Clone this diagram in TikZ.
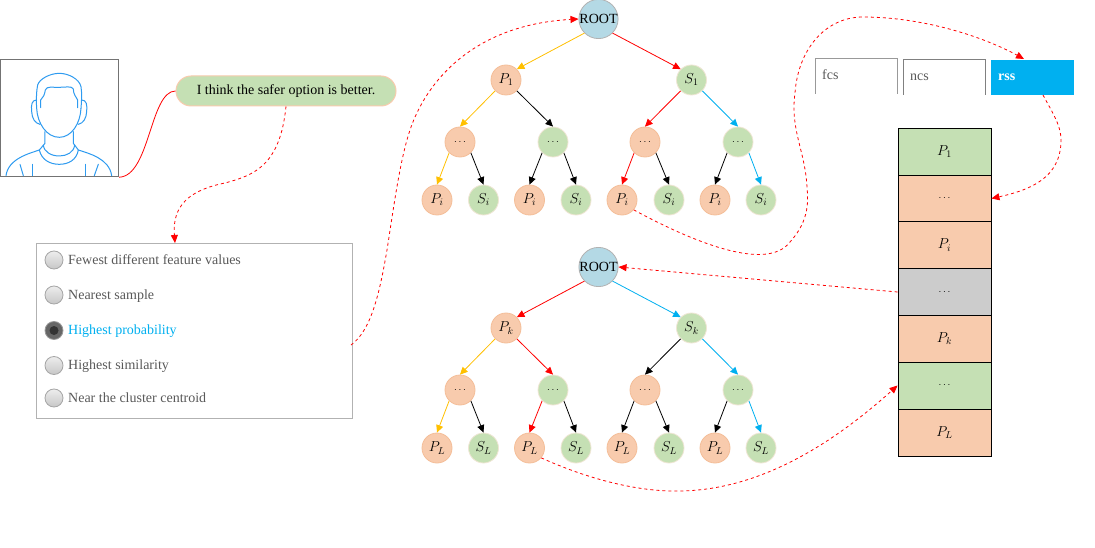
\documentclass[tikz,border=0pt]{standalone}
\usepackage{fontspec}
\setmainfont{Liberation Serif}
\usetikzlibrary{arrows.meta,shadings}
\definecolor{peach}{HTML}{F8CBAD}
\definecolor{peachline}{HTML}{F4BE98}
\definecolor{leaf}{HTML}{C5E0B4}
\definecolor{leafline}{HTML}{EFE6D4}
\definecolor{rootfill}{HTML}{B4D9E5}
\definecolor{amber}{HTML}{FFC000}
\definecolor{sky}{HTML}{00B0F0}
\definecolor{greytxt}{HTML}{595959}
\definecolor{figure}{HTML}{2E9BF0}
\newcommand{\labelfont}{\fontsize{14.4}{16}\selectfont}
\tikzset{
  x=1pt, y=-1pt,
  rootnode/.style={circle,draw=black!30,line width=0.8pt,fill=rootfill,minimum size=37pt,inner sep=0pt,font=\fontsize{14}{14}\selectfont},
  pnode/.style={circle,draw=peachline,line width=0.8pt,fill=peach,minimum size=30pt,inner sep=0pt,font=\labelfont},
  snode/.style={circle,draw=leafline,line width=0.8pt,fill=leaf,minimum size=30pt,inner sep=0pt,font=\labelfont},
  dotsnode/.style={font=\normalsize},
  edge/.style={line width=0.8pt,-{Triangle[length=7.5pt,width=7pt]}},
  link/.style={red,line width=0.8pt,dash pattern=on 3pt off 3pt},
  linkarrow/.style={link,-{Triangle[length=8pt,width=7pt]}},
  cell/.style={draw=black,line width=0.9pt,minimum width=93pt,minimum height=47pt,inner sep=0pt,font=\labelfont},
  tab/.style={minimum width=83pt,minimum height=35pt,inner sep=0pt},
  tablabel/.style={font=\fontsize{14}{14}\selectfont,anchor=base west,inner sep=0pt},
  choice/.style={circle,draw=black!35,line width=0.8pt,top color=black!7,bottom color=black!22,minimum size=18pt,inner sep=0pt},
  choicetext/.style={anchor=base west,text=greytxt,font=\fontsize{14}{16}\selectfont,inner sep=0pt},
  person/.style={figure,line width=1pt,line cap=round,line join=round},
}
\begin{document}
\begin{tikzpicture}
\useasboundingbox (0,0) rectangle (1095,548);
\fill[white] (0,0) rectangle (1095,548);

% portrait frame and line drawing of a person
\node[draw=black!55,line width=1.2pt,minimum width=118pt,minimum height=117pt,inner sep=0pt,anchor=north west] (portrait) at (0,59) {};
\begin{scope}[shift={(0,55)},x=0.3333pt,y=-0.3333pt,person]
  \draw (110,160) .. controls (108,130) and (110,105) .. (113,90) .. controls (118,72) and (150,55) .. (178,55) .. controls (205,55) and (238,72) .. (243,95) .. controls (246,115) and (245,135) .. (243,160);
  \draw (110,160) .. controls (112,205) and (140,247) .. (178,247) .. controls (215,247) and (241,205) .. (243,160);
  \draw (122,158) -- (122,135) .. controls (130,128) and (134,118) .. (136,105) .. controls (140,92) and (160,98) .. (178,97) .. controls (195,97) and (216,92) .. (220,102) .. controls (220,118) and (228,125) .. (233,135) -- (233,158);
  \draw (110,135) .. controls (95,135) and (93,150) .. (95,170) .. controls (96,190) and (105,205) .. (120,208);
  \draw (245,135) .. controls (260,135) and (262,150) .. (260,170) .. controls (259,190) and (250,205) .. (235,208);
  \draw (135,230) -- (135,265) -- (118,285);
  \draw (220,230) -- (220,265) -- (235,285);
  \draw (130,270) .. controls (132,292) and (155,303) .. (178,303) .. controls (200,303) and (222,292) .. (224,270);
  \draw (118,285) .. controls (125,315) and (150,328) .. (178,328) .. controls (205,328) and (230,315) .. (235,285);
  \draw (118,285) .. controls (90,295) and (25,310) .. (18,362);
  \draw (235,285) .. controls (265,295) and (328,310) .. (335,362);
  \draw (60,328) -- (70,362);
  \draw (97,328) -- (97,362);
  \draw (257,328) -- (257,362);
  \draw (295,328) -- (283,362);
\end{scope}

% speech bubble
\node[draw=peach,line width=1pt,fill=leaf,rounded corners=15pt,minimum width=220pt,minimum height=30pt,inner sep=0pt,font=\fontsize{14}{16}\selectfont,text height=10.5pt,text depth=2.5pt] (speech) at (286,91) {I think the safer option is better.};
\draw[red,line width=0.8pt] (portrait.south east) .. controls (150,176) and (150,91) .. (speech.west);

% answer list
\node[draw=black!30,line width=1.1pt,minimum width=316pt,minimum height=175pt,inner sep=0pt,anchor=north west] (options) at (36,243) {};
\node[choice] (r1) at (54,260) {};
\node[choice] (r2) at (54,295) {};
\node[circle,draw=black!40,line width=0.8pt,fill=black!60,minimum size=18pt,inner sep=0pt] (r3) at (54,330.5) {};
\node[circle,fill=black!80,minimum size=9pt,inner sep=0pt] (r3dot) at (54,330.5) {};
\node[choice] (r4) at (54,365.5) {};
\node[choice] (r5) at (54,398) {};
\node[choicetext] (t1) at (68,264) {Fewest different feature values};
\node[choicetext] (t2) at (68,299) {Nearest sample};
\node[choicetext,text=sky] (t3) at (68,334) {Highest probability};
\node[choicetext] (t4) at (68,369) {Highest similarity};
\node[choicetext] (t5) at (68,402) {Near the cluster centroid};

% upper tree
\node[rootnode] (a) at (598.5,19) {ROOT};
\node[pnode] (ap) at (506,80) {$P_1$};
\node[snode] (as) at (691.5,80) {$S_1$};
\node[pnode,dotsnode] (am1) at (460,142) {$\cdots$};
\node[snode,dotsnode] (am2) at (553,142) {$\cdots$};
\node[pnode,dotsnode] (am3) at (645,142) {$\cdots$};
\node[snode,dotsnode] (am4) at (738,142) {$\cdots$};
\foreach \n/\px/\lab/\st in {1/437/P_i/pnode,2/483.5/S_i/snode,3/529.5/P_i/pnode,4/576/S_i/snode,5/622/P_i/pnode,6/669/S_i/snode,7/715/P_i/pnode,8/761/S_i/snode}
  \node[\st] (al\n) at (\px,200) {$\lab$};
\draw[edge,amber] (a.-135) -- (ap.45);
\draw[edge,red] (a.-45) -- (as.135);
\foreach \from/\side/\to/\col in {ap/-135/am1/amber,ap/-45/am2/black,as/-135/am3/red,as/-45/am4/sky,
  am1/-135/al1/amber,am1/-45/al2/black,am2/-135/al3/black,am2/-45/al4/black,am3/-135/al5/red,am3/-45/al6/black,am4/-135/al7/black,am4/-45/al8/sky}
  \draw[edge,\col] (\from.\side) -- (\to.north);

% lower tree
\node[rootnode] (b) at (598.5,267) {ROOT};
\node[pnode] (bp) at (506,328) {$P_k$};
\node[snode] (bs) at (691.5,328) {$S_k$};
\node[pnode,dotsnode] (bm1) at (460,390) {$\cdots$};
\node[snode,dotsnode] (bm2) at (553,390) {$\cdots$};
\node[pnode,dotsnode] (bm3) at (645,390) {$\cdots$};
\node[snode,dotsnode] (bm4) at (738,390) {$\cdots$};
\foreach \n/\px/\lab/\st in {1/437/P_L/pnode,2/483.5/S_L/snode,3/529.5/P_L/pnode,4/576/S_L/snode,5/622/P_L/pnode,6/669/S_L/snode,7/715/P_L/pnode,8/761/S_L/snode}
  \node[\st] (bl\n) at (\px,448) {$\lab$};
\draw[edge,red] (b.-135) -- (bp.45);
\draw[edge,sky] (b.-45) -- (bs.135);
\foreach \from/\side/\to/\col in {bp/-135/bm1/amber,bp/-45/bm2/red,bs/-135/bm3/black,bs/-45/bm4/sky,
  bm1/-135/bl1/amber,bm1/-45/bl2/black,bm2/-135/bl3/red,bm2/-45/bl4/black,bm3/-135/bl5/black,bm3/-45/bl6/black,bm4/-135/bl7/black,bm4/-45/bl8/sky}
  \draw[edge,\col] (\from.\side) -- (\to.north);

% metric tabs
\node[tab] (fcs) at (856.5,77) {};
\draw[black!40,line width=1pt] (815.5,94) -- (815.5,59) -- (897.5,59) -- (897.5,94);
\node[tablabel,text=greytxt] (fcslabel) at (822,80) {fcs};
\node[tab] (ncs) at (944.5,78) {};
\draw[black!50,line width=1pt] (903.5,95) -- (903.5,60) -- (985.5,60) -- (985.5,95);
\node[tablabel,text=greytxt] (ncslabel) at (910,81) {ncs};
\node[tab,fill=sky] (rss) at (1032.5,77.5) {};
\node[tablabel,text=white,font=\fontsize{14}{14}\selectfont\bfseries] (rsslabel) at (998,81) {rss};

% sequence column
\node[cell,fill=leaf] (s1) at (944.5,151.5) {$P_1$};
\node[cell,fill=peach,font=\normalsize] (s2) at (944.5,198.5) {$\cdots$};
\node[cell,fill=peach] (s3) at (944.5,245) {$P_i$};
\node[cell,fill=black!20,font=\normalsize] (s4) at (944.5,292) {$\cdots$};
\node[cell,fill=peach] (s5) at (944.5,338.5) {$P_k$};
\node[cell,fill=leaf,font=\normalsize] (s6) at (944.5,385.5) {$\cdots$};
\node[cell,fill=peach] (s7) at (944.5,432.5) {$P_L$};

% dashed links
\draw[linkarrow] (speech.south) .. controls (280,165) and (255,175) .. (225,183) .. controls (190,190) and (172,205) .. (175,243);
\draw[linkarrow] (351,345) .. controls (372,330) and (380,290) .. (387,250) .. controls (394,205) and (400,160) .. (410,130) .. controls (425,85) and (470,25) .. (a.west);
\draw[linkarrow] (al5.-40) .. controls (680,235) and (765,275) .. (790,242) .. controls (810,220) and (808,200) .. (807,187) .. controls (805,150) and (790,130) .. (795,93) .. controls (798,50) and (825,17) .. (863,17) .. controls (920,17) and (980,35) .. (1024,59);
\draw[linkarrow] (1043,95) .. controls (1052,112) and (1061,125) .. (1061,140) .. controls (1061,178) and (1030,190) .. (s2.east);
\draw[linkarrow] (s4.west) -- (b.east);
\draw[linkarrow] (bl3.-40) .. controls (590,480) and (640,492) .. (680,491) .. controls (750,490) and (820,455) .. (s6.west);
\end{tikzpicture}
\end{document}
